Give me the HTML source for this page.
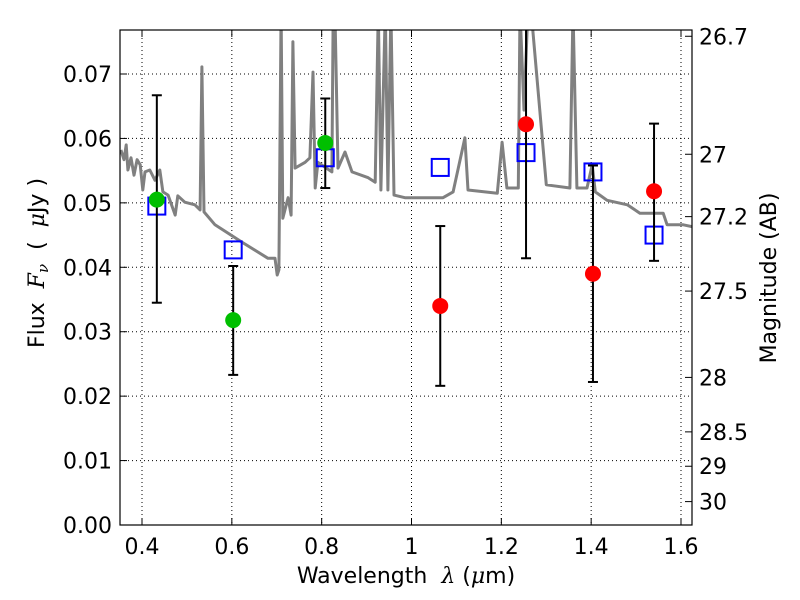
<!DOCTYPE html>
<html><head><meta charset="utf-8"><style>
body{margin:0;background:#fff;}
svg{display:block;font-family:"DejaVu Sans","Liberation Sans",sans-serif;}
</style></head><body>
<svg id="chart" width="800" height="600" viewBox="0 0 800 600"></svg>
<script>
const specWl=[0.3530,0.3598,0.3647,0.3686,0.3754,0.3822,0.3891,0.3959,0.4017,0.4066,0.4173,0.4290,0.4397,0.4466,0.4582,0.4738,0.4797,0.4953,0.5177,0.5294,0.5333,0.5381,0.5625,0.6229,0.6804,0.6960,0.7009,0.7048,0.7096,0.7135,0.7252,0.7320,0.7359,0.7408,0.7632,0.7739,0.7808,0.7856,0.7915,0.8227,0.8256,0.8295,0.8363,0.8519,0.8675,0.9035,0.9191,0.9260,0.9318,0.9416,0.9474,0.9542,0.9610,0.9854,1.0702,1.0926,1.1189,1.1257,1.1910,1.2017,1.2124,1.2377,1.2416,1.2504,1.2592,1.2660,1.3001,1.3527,1.3595,1.3683,1.3907,1.4024,1.4092,1.4355,1.4804,1.5086,1.5603,1.5690,1.6051,1.6246];
const specFlux=[0.0582,0.0567,0.0590,0.0551,0.0570,0.0543,0.0567,0.0559,0.0520,0.0548,0.0551,0.0535,0.0551,0.0517,0.0512,0.0481,0.0511,0.0501,0.0497,0.0489,0.0711,0.0486,0.0466,0.0439,0.0414,0.0414,0.0388,0.0396,0.080,0.0476,0.0508,0.0481,0.0750,0.0554,0.0563,0.0570,0.0703,0.0523,0.0563,0.0548,0.080,0.080,0.0554,0.0579,0.0548,0.0539,0.0532,0.080,0.0520,0.080,0.0520,0.080,0.0512,0.0508,0.0508,0.0517,0.0601,0.0520,0.0515,0.0594,0.0523,0.0523,0.080,0.0644,0.080,0.080,0.0528,0.0523,0.080,0.0523,0.0523,0.0559,0.0517,0.0504,0.0497,0.0484,0.0484,0.0466,0.0466,0.0463];
const bandWl=[0.433,0.603,0.808,1.064,1.255,1.404,1.540];
const obsFlux=[0.0505,0.0318,0.0593,0.0340,0.0622,0.0390,0.0518];
const errLow=[0.0345,0.0233,0.0523,0.0216,0.0414,0.0222,0.0410];
const errHigh=[0.0667,0.0402,0.0662,0.0464,0.080,0.0558,0.0623];
const obsColor=["#00bf00","#00bf00","#00bf00","#ff0000","#ff0000","#ff0000","#ff0000"];
const modelFlux=[0.0495,0.0427,0.0570,0.0555,0.0578,0.0548,0.0450];
const xTicks=[0.4,0.6,0.8,1.0,1.2,1.4,1.6];
const xTickLabels=["0.4","0.6","0.8","1","1.2","1.4","1.6"];
const yTicks=[0,0.01,0.02,0.03,0.04,0.05,0.06,0.07];
const yTickLabels=["0.00","0.01","0.02","0.03","0.04","0.05","0.06","0.07"];
const magTicks=[26.7,27,27.2,27.5,28,28.5,29,30];
const magLabels=["26.7","27","27.2","27.5","28","28.5","29","30"];

const L=120,R=692,T=30,B=525,X0=0.351,X1=1.6245,Y0=0,Y1=0.07683;
const sx=w=>L+(w-X0)/(X1-X0)*(R-L);
const sy=f=>B-(f-Y0)/(Y1-Y0)*(B-T);
const NS="http://www.w3.org/2000/svg";
const svg=document.getElementById('chart');
function mk(tag,attrs,parent){const e=document.createElementNS(NS,tag);for(const k in attrs)e.setAttribute(k,attrs[k]);(parent||svg).appendChild(e);return e;}
const defs=mk('defs',{});const cp=mk('clipPath',{id:'clip'},defs);mk('rect',{x:L,y:T,width:R-L,height:B-T},cp);

const grid=mk('g',{});


xTicks.forEach(t=>mk('line',{x1:sx(t),x2:sx(t),y1:T,y2:B,stroke:'#000','stroke-width':1,'stroke-dasharray':'1,3'},grid));
yTicks.forEach(t=>mk('line',{x1:L,x2:R,y1:sy(t),y2:sy(t),stroke:'#000','stroke-width':1,'stroke-dasharray':'1,3'},grid));

const plot=mk('g',{'clip-path':'url(#clip)'});
let d='';specWl.forEach((w,i)=>{d+=(i?'L':'M')+sx(w).toFixed(1)+','+sy(specFlux[i]).toFixed(1);});
const sp=mk('path',{d:d,fill:'none',stroke:'#808080','stroke-width':3,'stroke-linejoin':'round'},plot);


bandWl.forEach((w,i)=>{const s=mk('rect',{x:sx(w)-8.5,y:sy(modelFlux[i])-8.5,width:17,height:17,fill:'none',stroke:'#0000ff','stroke-width':2},plot);

});
bandWl.forEach((w,i)=>{const g=mk('g',{},plot);


const x=sx(w);mk('line',{x1:x,x2:x,y1:sy(errLow[i]),y2:sy(errHigh[i]),stroke:'#000','stroke-width':2},g);
mk('line',{x1:x-5,x2:x+5,y1:sy(errLow[i]),y2:sy(errLow[i]),stroke:'#000','stroke-width':2},g);
mk('line',{x1:x-5,x2:x+5,y1:sy(errHigh[i]),y2:sy(errHigh[i]),stroke:'#000','stroke-width':2},g);});
bandWl.forEach((w,i)=>{const c=mk('circle',{cx:sx(w),cy:sy(obsFlux[i]),r:8,fill:obsColor[i]},plot);

});

const fr=mk('rect',{x:L,y:T,width:R-L,height:B-T,fill:'none',stroke:'#000','stroke-width':1.2});


xTicks.forEach((t,i)=>{const x=sx(t);mk('line',{x1:x,x2:x,y1:B,y2:B-7,stroke:'#000'});mk('line',{x1:x,x2:x,y1:T,y2:T+7,stroke:'#000'});
const tx=mk('text',{x:x,y:B+29,'font-size':22,'text-anchor':'middle'});tx.textContent=xTickLabels[i];

});
yTicks.forEach((t,i)=>{const y=sy(t);mk('line',{x1:L,x2:L+7,y1:y,y2:y,stroke:'#000'});
const tx=mk('text',{x:L-8,y:y+8,'font-size':22,'text-anchor':'end'});tx.textContent=yTickLabels[i];

});
magTicks.forEach((m,i)=>{const y=sy(Math.pow(10,(23.9-m)/2.5));mk('line',{x1:R,x2:R-7,y1:y,y2:y,stroke:'#000'});
const tx=mk('text',{x:R+7,y:y+8,'font-size':22,'text-anchor':'start'});tx.textContent=magLabels[i];

});
</script>
<svg width="800" height="600" style="position:absolute;left:0;top:0" font-family="DejaVu Sans, Liberation Sans, sans-serif">
<text x="406" y="583" font-size="22" text-anchor="middle" xml:space="preserve">Wavelength  <tspan font-style="italic" font-family="DejaVu Serif, serif">λ</tspan> (<tspan font-style="italic" font-family="DejaVu Serif, serif">μ</tspan>m)</text>
<text transform="translate(44,263) rotate(-90)" font-size="22" text-anchor="middle" xml:space="preserve">Flux  <tspan font-style="italic" font-family="DejaVu Serif, serif">F</tspan><tspan font-style="italic" font-size="15" dy="4" font-family="DejaVu Serif, serif">ν</tspan><tspan dy="-4">  (  </tspan><tspan font-style="italic" font-family="DejaVu Serif, serif">μ</tspan>Jy )</text>
<text transform="translate(776,278) rotate(-90)" font-size="22" text-anchor="middle">Magnitude (AB)</text>
</svg>
</body></html>
